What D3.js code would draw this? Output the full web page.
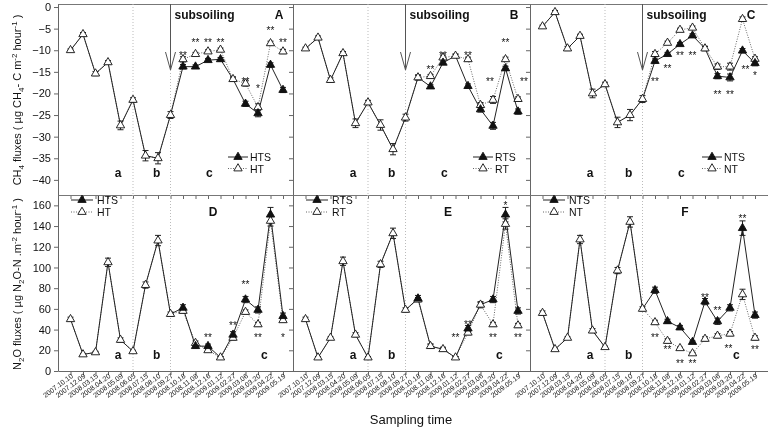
<!DOCTYPE html>
<html lang="en">
<head>
<meta charset="utf-8">
<title>CH4 and N2O fluxes</title>
<script src="https://cdnjs.cloudflare.com/ajax/libs/d3/7.8.5/d3.min.js"></script>
<style>
  body { margin:0; background:#fff; }
  svg { will-change: transform; }
  text { font-family: "Liberation Sans", Arial, sans-serif; fill:#111; }
</style>
</head>
<body>
<svg id="chart" width="769" height="430"></svg>
<script>
// sampling dates (x categories)
var dates = ["2007.10.10","2007.12.09","2008.03.15","2008.04.20","2008.05.09","2008.06.05",
  "2008.07.15","2008.08.10","2008.09.27","2008.10.18","2008.11.08","2008.12.16",
  "2009.01.12","2009.02.27","2009.03.06","2009.03.20","2009.04.22","2009.05.19"];

// CH4 fluxes, open = no subsoiling, filled = subsoiled
var htCH4  = [-10,-6.3,-15.4,-12.8,-27.4,-21.5,-34.4,-35,-25,-12.1,-10.9,-10.3,-9.9,-16.7,-17.7,-23.2,-8.4,-10.3];
var htsCH4 = [-10,-6.3,-15.4,-12.8,-27.4,-21.5,-34.4,-35,-25,-13.8,-13.8,-12.3,-12.1,-16.7,-22.4,-24.6,-13.4,-19.2];
var rtCH4  = [-9.6,-7.1,-16.9,-10.7,-26.9,-22.1,-27.3,-32.9,-25.6,-16.3,-16,-11.7,-11.3,-12.1,-22.7,-21.5,-12.1,-21.3];
var rtsCH4 = [-9.6,-7.1,-16.9,-10.7,-26.9,-22.1,-27.3,-32.9,-25.6,-16.3,-18.4,-12.9,-11.3,-18.3,-23.7,-27.5,-14.2,-24.2];
var ntCH4  = [-4.5,-1.2,-9.6,-6.7,-20,-17.9,-26.7,-25,-21.3,-10.9,-8.3,-5.3,-4.8,-9.6,-13.8,-13.8,-2.8,-12];
var ntsCH4 = [-4.5,-1.2,-9.6,-6.7,-20,-17.9,-26.7,-25,-21.3,-12.5,-10.9,-8.6,-6.6,-9.6,-16,-16.3,-10.1,-13];

// N2O fluxes
var htN2O  = [50,16,18,105,30,19,83,126,55,58,27,20,13,32,57,45,145,49];
var htsN2O = [50,16,18,105,30,19,83,126,55,61,24,24,13,35,69,59,151,53];
var rtN2O  = [50,13,32,106,35,13,103,133,59,69,24,21,13,37,64,45,142,44];
var rtsN2O = [50,13,32,106,35,13,103,133,59,70,24,21,13,41,64,69,151,58];
var ntN2O  = [56,21,32,127,39,23,97,144,60,47,29,22,17,31,34,36,74,32];
var ntsN2O = [56,21,32,127,39,23,97,144,60,78,48,42,28,67,48,61,138,54];

// standard errors
var ch4ErrO = [0.3,0.4,0.5,0.4,1.0,0.5,1.2,1.3,0.8,0.6,0.4,0.4,0.4,0.5,0.6,0.8,0.5,0.5];
var ch4ErrF = [0.3,0.4,0.5,0.4,1.0,0.5,1.2,1.3,0.8,0.5,0.4,0.4,0.4,0.5,0.6,0.8,0.5,0.6];
var n2oErrO = [2,1,1,4,2,1,3,5,2,2,2,1,1,2,2,2,5,2];
var n2oErrF = [2,1,1,4,2,1,3,5,2,3,2,2,1,3,3,3,7,3];

// significance marks: [date index, mark, value level, x shift]
var starsA = [[9,"**",-10.7,0],[10,"**",-7.6,0],[11,"**",-7.6,0],[12,"**",-7.6,0],[14,"**",-16.7,0],[15,"*",-18.3,0],[16,"**",-4.9,0],[17,"**",-7.6,0]];
var starsB = [[10,"**",-13.8,0],[11,"**",-10.7,0],[13,"**",-10.6,0],[15,"**",-16.7,-3],[16,"**",-7.6,0],[17,"**",-16.7,6]];
var starsC = [[9,"**",-16.7,0],[10,"**",-13.6,0],[11,"**",-10.7,0],[12,"**",-10.7,0],[14,"**",-19.6,0],[15,"**",-19.6,0],[16,"**",-13.8,3],[17,"*",-15.2,0]];
var starsD = [[11,"**",34.7,0],[13,"**",46.7,0],[14,"**",85.5,0],[15,"**",34.7,0],[17,"*",34.7,0]];
var starsE = [[12,"**",34.7,0],[13,"**",47.6,0],[15,"**",34.7,0],[16,"*",162,0],[17,"**",34.7,0]];
var starsF = [[9,"**",34.7,0],[10,"**",23.3,0],[11,"**",9.7,0],[12,"**",9.7,0],[13,"**",73.6,0],[14,"**",60.6,0],[15,"**",24.5,-1.5],[16,"**",149.7,0],[17,"**",23.3,0]];

var ch4Ticks = [0,-5,-10,-15,-20,-25,-30,-35,-40];
var n2oTicks = [0,20,40,60,80,100,120,140,160];
var periodsTop = [["a",3.8],["b",6.9],["c",11.1]];
var periodsBottom = [["a",3.8],["b",6.9],["c",15.5]];
var periodLines = [5, 8];
var subsoilIndex = 8;

var svg = d3.select("#chart");
var panelLeft = [58, 293, 530];
var panelW = 237.5;

var yCH4 = d3.scaleLinear().domain([-43.5, 0.7]).range([195, 4]);
var yN2O = d3.scaleLinear().domain([0, 170]).range([371, 195]);

var rows = [
  { y: yCH4, ticks: ch4Ticks, top: 4, bottom: 195, legY: [157, 168.5], legDx: [170, 180, 172],
    legLen: 20, legTri: 10, legText: 22, letterDx: 221, letterY: 19, perY: 177,
    periods: periodsTop,
    panels: [
      {letter:"A", on:"HT", fn:"HTS", o:htCH4, f:htsCH4, stars:starsA},
      {letter:"B", on:"RT", fn:"RTS", o:rtCH4, f:rtsCH4, stars:starsB},
      {letter:"C", on:"NT", fn:"NTS", o:ntCH4, f:ntsCH4, stars:starsC}],
    eo: ch4ErrO, ef: ch4ErrF },
  { y: yN2O, ticks: n2oTicks, top: 195, bottom: 371, legY: [200, 212], legDx: [13, 13, 13],
    legLen: 22, legTri: 11, legText: 26, letterDx: 155, letterY: 216, perY: 359,
    periods: periodsBottom,
    panels: [
      {letter:"D", on:"HT", fn:"HTS", o:htN2O, f:htsN2O, stars:starsD},
      {letter:"E", on:"RT", fn:"RTS", o:rtN2O, f:rtsN2O, stars:starsE},
      {letter:"F", on:"NT", fn:"NTS", o:ntN2O, f:ntsN2O, stars:starsF}],
    eo: n2oErrO, ef: n2oErrF }
];

var tri = d3.symbol().type(d3.symbolTriangle).size(30);

rows.forEach(function(row, r) {
  row.panels.forEach(function(p, c) {
    var L = panelLeft[c];
    var x = d3.scaleLinear().domain([-1, 18]).range([L, L + panelW]);
    var y = row.y;
    var g = svg.append("g");

    // top frame line
    g.append("line").attr("x1", L).attr("x2", L + panelW).attr("y1", row.top + 0.5).attr("y2", row.top + 0.5)
      .attr("stroke", "#777");

    // period dividers
    periodLines.forEach(function(i) {
      g.append("line").attr("x1", x(i)).attr("x2", x(i)).attr("y1", row.top).attr("y2", row.bottom)
        .attr("stroke", "#bbb").attr("stroke-dasharray", "1,2");
    });

    // y axis
    var ya = d3.axisLeft(y).tickValues(row.ticks).tickSize(4).tickSizeOuter(0).tickPadding(3);
    if (c > 0) ya.tickFormat("");
    var yg = g.append("g").attr("transform", "translate(" + L + ",0)").call(ya);
    yg.select(".domain").attr("stroke", "#666");
    yg.selectAll(".tick line").attr("stroke", "#666");
    yg.selectAll("text").attr("font-size", 11).attr("fill", "#111");

    // x axis
    var xa = d3.axisBottom(x).tickValues(d3.range(dates.length)).tickSize(4).tickSizeOuter(0).tickFormat("");
    var xg = g.append("g").attr("transform", "translate(0," + row.bottom + ")").call(xa);
    xg.select(".domain").attr("stroke", "#666");
    xg.selectAll(".tick line").attr("stroke", "#666");
    if (r === 1) {
      g.selectAll(".dlab").data(dates).enter().append("text")
        .attr("transform", function(d, i) { return "translate(" + (x(i) + 3) + "," + (row.bottom + 6) + ") rotate(-37)"; })
        .attr("text-anchor", "end").attr("font-size", 7).attr("fill", "#333")
        .text(function(d) { return d; });
    }

    // lines
    var line = d3.line().x(function(d, i) { return x(i); }).y(function(d) { return y(d); });
    g.append("path").attr("d", line(p.o)).attr("fill", "none").attr("stroke", "#666")
      .attr("stroke-width", 1).attr("stroke-dasharray", "1,1.5");
    g.append("path").attr("d", line(p.f)).attr("fill", "none").attr("stroke", "#222").attr("stroke-width", 1);

    // error bars
    function errBar(v, e, i) {
      var xi = x(i);
      g.append("line").attr("x1", xi).attr("x2", xi).attr("y1", y(v - e)).attr("y2", y(v + e)).attr("stroke", "#222");
      [v - e, v + e].forEach(function(w) {
        g.append("line").attr("x1", xi - 3).attr("x2", xi + 3).attr("y1", y(w)).attr("y2", y(w)).attr("stroke", "#222");
      });
    }
    p.o.forEach(function(v, i) { errBar(v, row.eo[i], i); });
    p.f.forEach(function(v, i) { if (i > subsoilIndex) errBar(v, row.ef[i], i); });

    // markers
    g.selectAll(".om").data(p.o).enter().append("path")
      .attr("d", tri).attr("transform", function(d, i) { return "translate(" + x(i) + "," + y(d) + ")"; })
      .attr("fill", "#fff").attr("stroke", "#111").attr("stroke-width", 0.9);
    g.selectAll(".fm").data(p.f.map(function(v, i) { return {v: v, i: i}; })
        .filter(function(d) { return d.i > subsoilIndex && Math.abs(d.v - p.o[d.i]) > 0.01; }))
      .enter().append("path")
      .attr("d", tri).attr("transform", function(d) { return "translate(" + x(d.i) + "," + y(d.v) + ")"; })
      .attr("fill", "#111").attr("stroke", "#111").attr("stroke-width", 0.9);

    // significance marks
    p.stars.forEach(function(s) {
      g.append("text").attr("x", x(s[0]) + s[3]).attr("y", y(s[2]) + 6)
        .attr("text-anchor", "middle").attr("font-size", 10).attr("fill", "#222").text(s[1]);
    });

    // period letters
    row.periods.forEach(function(pr) {
      g.append("text").attr("x", x(pr[1])).attr("y", row.perY).attr("text-anchor", "middle")
        .attr("font-size", 12).attr("font-weight", "bold").text(pr[0]);
    });

    // panel letter
    g.append("text").attr("x", L + row.letterDx).attr("y", row.letterY).attr("text-anchor", "middle")
      .attr("font-size", 12).attr("font-weight", "bold").text(p.letter);

    // legend
    var lx = L + row.legDx[c];
    [[p.fn, "#111", null, row.legY[0]], [p.on, "#fff", "1,1.5", row.legY[1]]].forEach(function(it) {
      g.append("line").attr("x1", lx).attr("x2", lx + row.legLen).attr("y1", it[3]).attr("y2", it[3])
        .attr("stroke", it[2] ? "#666" : "#222").attr("stroke-dasharray", it[2]);
      g.append("path").attr("d", tri).attr("transform", "translate(" + (lx + row.legTri) + "," + it[3] + ")")
        .attr("fill", it[1]).attr("stroke", "#111").attr("stroke-width", 0.9);
      g.append("text").attr("x", lx + row.legText).attr("y", it[3] + 4).attr("font-size", 10.5).text(it[0]);
    });

    // subsoiling arrow
    if (r === 0) {
      var ax = x(subsoilIndex);
      g.append("line").attr("x1", ax).attr("x2", ax).attr("y1", row.top).attr("y2", 70).attr("stroke", "#555");
      g.append("path").attr("d", "M" + (ax - 5) + ",52L" + ax + ",70L" + (ax + 5) + ",52")
        .attr("fill", "none").attr("stroke", "#555");
      g.append("text").attr("x", ax + 4).attr("y", 19).attr("font-size", 12).attr("font-weight", "bold").text("subsoiling");
    }
  });
});

// axis titles
function title(tx, ty, parts) {
  var t = svg.append("text").attr("transform", "translate(" + tx + "," + ty + ") rotate(-90)")
    .attr("text-anchor", "middle").attr("font-size", 11);
  var shift = 0;
  parts.forEach(function(pt) {
    var target = pt[1] === "sub" ? 3 : pt[1] === "sup" ? -4 : 0;
    t.append("tspan").attr("dy", target - shift).attr("font-size", pt[1] ? 8 : 11).text(pt[0]);
    shift = target;
  });
}
title(21, 100, [["CH"],["4","sub"],["  fluxes ( \u00b5g CH"],["4","sub"],["- C  m"],["-2","sup"],[" hour"],["-1","sup"],[" )"]]);
title(21, 284, [["N"],["2","sub"],["O  fluxes ( \u00b5g N"],["2","sub"],["O-N .m"],["-2","sup"],[" hour"],["-1","sup"],[" )"]]);

svg.append("text").attr("x", 411).attr("y", 424).attr("text-anchor", "middle").attr("font-size", 13).text("Sampling time");
</script>
</body>
</html>
